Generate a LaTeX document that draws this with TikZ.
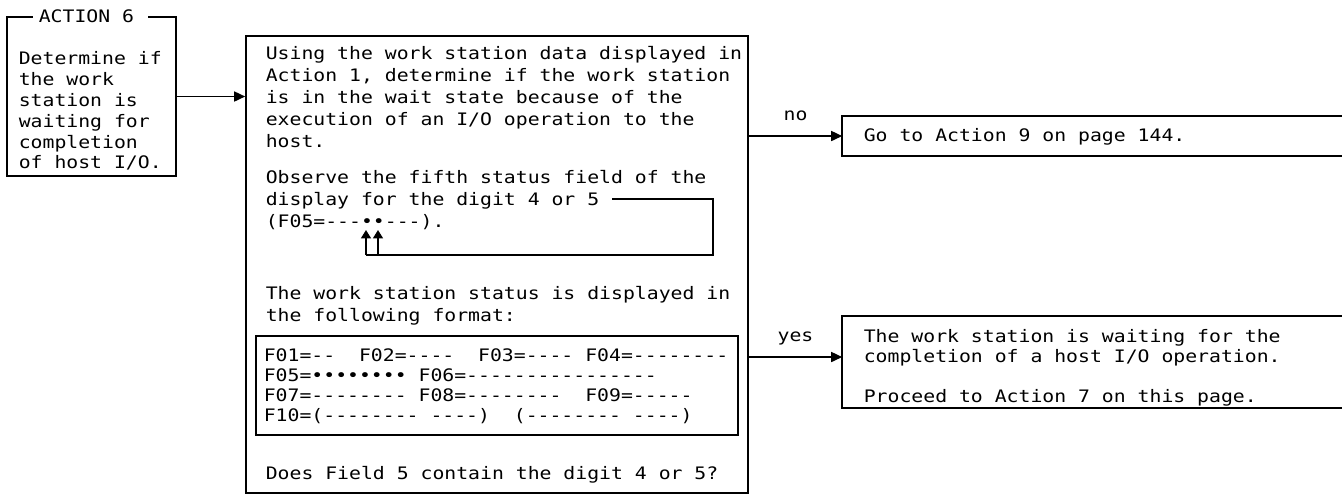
\documentclass[tikz,border=0pt]{standalone}
\usepackage{fontspec}
\usepackage{tikz}
\usetikzlibrary{arrows.meta, fit}
\newfontfamily\prtfont[FakeStretch=1.15, Ligatures=TeXOff]{DejaVu Sans Mono}
\newcommand{\prt}{\prtfont\fontsize{8.6}{10.4}\selectfont\frenchspacing}

\begin{document}
\begin{tikzpicture}[x=0.5pt, y=-0.5pt, line width=0.8pt,
    >={Triangle[length=5.5pt, width=5pt]},
    frame/.style={draw, inner sep=0pt},
    open/.style={inner sep=0pt},
    tag/.style={inner sep=0pt, font=\prt},
    txt/.style={anchor=north west, align=left, inner sep=0pt, font=\prt},
    wide/.style={txt, font=\prt\fontsize{8.6}{10.9}\selectfont},
    tight/.style={txt, font=\prt\fontsize{8.6}{10}\selectfont}]

  \useasboundingbox (0,0) rectangle (1342,495);

  % action 6 box
  \node[frame, fit={(7,17) (176,176)}] (act) {};
  \node[tag, fill=white, inner xsep=3pt, anchor=west] (acttag) at (32,16) {ACTION 6\kern4pt};
  \node[txt] (acttxt) at (18,51) {Determine if\\the work\\station is\\waiting for\\completion\\of host I/O.};

  % question box
  \node[frame, fit={(246,36) (748,493)}] (main) {};
  \node[wide] (q1) at (265,46) {Using the work station data displayed in\\Action 1, determine if the work station\\is in the wait state because of the\\execution of an I/O operation to the\\host.};
  \node[wide] (q2) at (265,170) {Observe the fifth status field of the\\display for the digit 4 or 5\\(F05=---••---).};
  \node[wide] (q3) at (265,286) {The work station status is displayed in\\the following format:};

  % status format
  \node[frame, fit={(256,336) (738,435)}] (fmt) {};
  \node[tight] (fmttxt) at (263,348) {F01=--~~F02=----~~F03=----~F04=--------\\F05=••••••••~F06=----------------\\F07=--------~F08=--------~~F09=-----\\F10=(--------~----)~~(--------~----)};
  \node[txt] (q4) at (265,466) {Does Field 5 contain the digit 4 or 5?};

  % pointer to the field 5 digits
  \coordinate (b0) at (612,199);
  \coordinate (b1) at (713,255);
  \coordinate (d1) at (366,255);
  \coordinate (d2) at (378,255);
  \draw (b0) -| (b1) -- (d1);
  \draw[-{Triangle[length=4.2pt, width=5pt]}] (d1) -- ++(0,-25);
  \draw[-{Triangle[length=4.2pt, width=5pt]}] (d2) -- ++(0,-25);

  % no: action 9
  \node[open, fit={(843,117) (1342,155)}] (go9) {};
  \draw (go9.north east) -- (go9.north west) -- (go9.south west) -- (go9.south east);
  \node[tag, anchor=west] (go9txt) at (863,137) {Go to Action 9 on page 144.};

  % yes: action 7
  \node[open, fit={(843,317) (1342,407)}] (act7) {};
  \draw (act7.north east) -- (act7.north west) -- (act7.south west) -- (act7.south east);
  \node[tight] (act7txt) at (863,329) {The work station is waiting for the\\completion of a host I/O operation.\\[9.8pt]Proceed to Action 7 on this page.};
  \coordinate (yesin) at ([yshift=2.5pt]act7.west);

  \draw[->] (act.east) -- (act.east -| main.west);
  \draw[->] (main.east |- go9.west) -- node[tag, anchor=base, yshift=8pt] (no) {no} (go9.west);
  \draw[->] (main.east |- yesin) -- node[tag, anchor=base, yshift=8pt] (yes) {yes} (yesin);
\end{tikzpicture}
\end{document}
